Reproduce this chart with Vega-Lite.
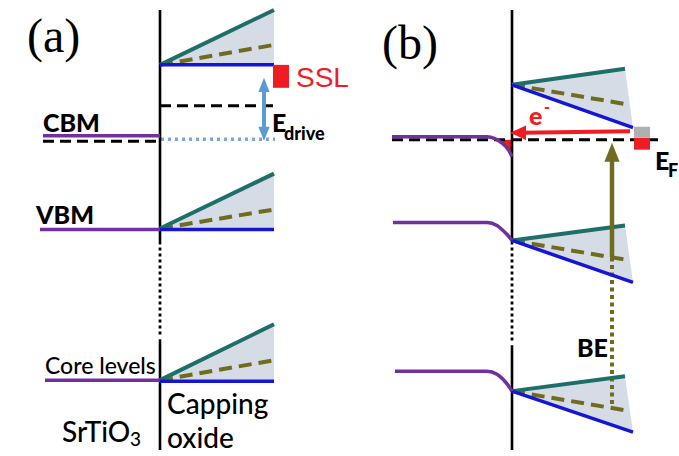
{
  "$schema": "https://vega.github.io/schema/vega-lite/v6.json",
  "width": 679,
  "height": 456,
  "autosize": {"type": "fit", "contains": "padding"},
  "padding": 0,
  "background": "white",
  "config": {"view": {"stroke": null}, "axis": {"disable": true}},
  "datasets": {
    "cones": [
      {"cone": "a-cb", "x": 160, "y": 65, "y2": 65},
      {"cone": "a-cb", "x": 274, "y": 10, "y2": 65},
      {"cone": "a-vb", "x": 160, "y": 229, "y2": 229},
      {"cone": "a-vb", "x": 274, "y": 174, "y2": 230},
      {"cone": "a-core", "x": 160, "y": 381, "y2": 381},
      {"cone": "a-core", "x": 274, "y": 325, "y2": 382},
      {"cone": "b-cb", "x": 512, "y": 85, "y2": 85},
      {"cone": "b-cb", "x": 625, "y": 69, "y2": 125.2},
      {"cone": "b-cb", "x": 633, "y": 128, "y2": 128},
      {"cone": "b-vb", "x": 512, "y": 241, "y2": 241},
      {"cone": "b-vb", "x": 625, "y": 226, "y2": 280.2},
      {"cone": "b-vb", "x": 633, "y": 283, "y2": 283},
      {"cone": "b-core", "x": 512, "y": 392, "y2": 392},
      {"cone": "b-core", "x": 625, "y": 377, "y2": 430.3},
      {"cone": "b-core", "x": 633, "y": 433, "y2": 433}
    ],
    "accumulation": [
      {"x": 497, "y": 140, "y2": 140},
      {"x": 500, "y": 140, "y2": 142},
      {"x": 505, "y": 140, "y2": 146},
      {"x": 509, "y": 140, "y2": 151},
      {"x": 512, "y": 140, "y2": 157}
    ],
    "segs": [
      {"seg": "a-if-top", "role": "interface", "x": 160, "y": 10},
      {"seg": "a-if-top", "role": "interface", "x": 160, "y": 245},
      {"seg": "a-if-bot", "role": "interface", "x": 160, "y": 340},
      {"seg": "a-if-bot", "role": "interface", "x": 160, "y": 451},
      {"seg": "b-if-top", "role": "interface", "x": 512, "y": 10},
      {"seg": "b-if-top", "role": "interface", "x": 512, "y": 245},
      {"seg": "b-if-bot", "role": "interface", "x": 512, "y": 346},
      {"seg": "b-if-bot", "role": "interface", "x": 512, "y": 451},
      {"seg": "a-if-gap", "role": "gap", "x": 160, "y": 248},
      {"seg": "a-if-gap", "role": "gap", "x": 160, "y": 338},
      {"seg": "b-if-gap", "role": "gap", "x": 512, "y": 248},
      {"seg": "b-if-gap", "role": "gap", "x": 512, "y": 343},

      {"seg": "a-cb-up", "role": "upper", "x": 160, "y": 65},
      {"seg": "a-cb-up", "role": "upper", "x": 274, "y": 10},
      {"seg": "a-vb-up", "role": "upper", "x": 160, "y": 229},
      {"seg": "a-vb-up", "role": "upper", "x": 274, "y": 174},
      {"seg": "a-core-up", "role": "upper", "x": 160, "y": 381},
      {"seg": "a-core-up", "role": "upper", "x": 274, "y": 325},
      {"seg": "b-cb-up", "role": "upper", "x": 512, "y": 85},
      {"seg": "b-cb-up", "role": "upper", "x": 625, "y": 69},
      {"seg": "b-vb-up", "role": "upper", "x": 512, "y": 241},
      {"seg": "b-vb-up", "role": "upper", "x": 625, "y": 226},
      {"seg": "b-core-up", "role": "upper", "x": 512, "y": 392},
      {"seg": "b-core-up", "role": "upper", "x": 625, "y": 377},

      {"seg": "a-cb-mid", "role": "mid", "x": 160, "y": 65},
      {"seg": "a-cb-mid", "role": "mid", "x": 274, "y": 45},
      {"seg": "a-vb-mid", "role": "mid", "x": 160, "y": 229},
      {"seg": "a-vb-mid", "role": "mid", "x": 274, "y": 210},
      {"seg": "a-core-mid", "role": "mid", "x": 160, "y": 381},
      {"seg": "a-core-mid", "role": "mid", "x": 274, "y": 361},
      {"seg": "b-cb-mid", "role": "mid", "x": 512, "y": 85},
      {"seg": "b-cb-mid", "role": "mid", "x": 630, "y": 105},
      {"seg": "b-vb-mid", "role": "mid", "x": 512, "y": 241},
      {"seg": "b-vb-mid", "role": "mid", "x": 630, "y": 261},
      {"seg": "b-core-mid", "role": "mid", "x": 512, "y": 392},
      {"seg": "b-core-mid", "role": "mid", "x": 630, "y": 412},

      {"seg": "a-cb-low", "role": "lower", "x": 160, "y": 65},
      {"seg": "a-cb-low", "role": "lower", "x": 274, "y": 65},
      {"seg": "a-vb-low", "role": "lower", "x": 160, "y": 230},
      {"seg": "a-vb-low", "role": "lower", "x": 274, "y": 230},
      {"seg": "a-core-low", "role": "lower", "x": 160, "y": 382},
      {"seg": "a-core-low", "role": "lower", "x": 274, "y": 382},
      {"seg": "b-cb-low", "role": "lower", "x": 512, "y": 85},
      {"seg": "b-cb-low", "role": "lower", "x": 633, "y": 128},
      {"seg": "b-vb-low", "role": "lower", "x": 512, "y": 241},
      {"seg": "b-vb-low", "role": "lower", "x": 633, "y": 283},
      {"seg": "b-core-low", "role": "lower", "x": 512, "y": 392},
      {"seg": "b-core-low", "role": "lower", "x": 633, "y": 433},

      {"seg": "a-cb-sto", "role": "sto", "x": 43, "y": 136},
      {"seg": "a-cb-sto", "role": "sto", "x": 160, "y": 136},
      {"seg": "a-vb-sto", "role": "sto", "x": 40, "y": 230},
      {"seg": "a-vb-sto", "role": "sto", "x": 160, "y": 230},
      {"seg": "a-core-sto", "role": "sto", "x": 45, "y": 381},
      {"seg": "a-core-sto", "role": "sto", "x": 160, "y": 381},
      {"seg": "b-cb-sto", "role": "sto", "x": 392, "y": 137},
      {"seg": "b-cb-sto", "role": "sto", "x": 487, "y": 137},
      {"seg": "b-cb-sto", "role": "sto", "x": 495, "y": 139},
      {"seg": "b-cb-sto", "role": "sto", "x": 500, "y": 142},
      {"seg": "b-cb-sto", "role": "sto", "x": 505, "y": 146},
      {"seg": "b-cb-sto", "role": "sto", "x": 509, "y": 151},
      {"seg": "b-cb-sto", "role": "sto", "x": 512, "y": 157},
      {"seg": "b-vb-sto", "role": "sto", "x": 393, "y": 223},
      {"seg": "b-vb-sto", "role": "sto", "x": 487, "y": 223},
      {"seg": "b-vb-sto", "role": "sto", "x": 497, "y": 226},
      {"seg": "b-vb-sto", "role": "sto", "x": 503, "y": 231},
      {"seg": "b-vb-sto", "role": "sto", "x": 508, "y": 236},
      {"seg": "b-vb-sto", "role": "sto", "x": 512, "y": 241},
      {"seg": "b-core-sto", "role": "sto", "x": 395, "y": 372},
      {"seg": "b-core-sto", "role": "sto", "x": 487, "y": 372},
      {"seg": "b-core-sto", "role": "sto", "x": 497, "y": 375},
      {"seg": "b-core-sto", "role": "sto", "x": 503, "y": 380},
      {"seg": "b-core-sto", "role": "sto", "x": 508, "y": 386},
      {"seg": "b-core-sto", "role": "sto", "x": 512, "y": 392},

      {"seg": "a-ef-cbm", "role": "fermi", "x": 43, "y": 141.5},
      {"seg": "a-ef-cbm", "role": "fermi", "x": 160, "y": 141.5},
      {"seg": "a-ef-top", "role": "fermi", "x": 160, "y": 106},
      {"seg": "a-ef-top", "role": "fermi", "x": 277, "y": 106},
      {"seg": "b-ef", "role": "fermi", "x": 392, "y": 140},
      {"seg": "b-ef", "role": "fermi", "x": 662, "y": 140},

      {"seg": "a-cbm-ref", "role": "cbmref", "x": 161, "y": 139.5},
      {"seg": "a-cbm-ref", "role": "cbmref", "x": 275, "y": 139.5},

      {"seg": "drive-shaft", "role": "drive", "x": 264, "y": 88},
      {"seg": "drive-shaft", "role": "drive", "x": 264, "y": 132},
      {"seg": "e-shaft", "role": "electron", "x": 522, "y": 133},
      {"seg": "e-shaft", "role": "electron", "x": 630, "y": 131.5},
      {"seg": "be-shaft", "role": "be", "x": 612, "y": 158},
      {"seg": "be-shaft", "role": "be", "x": 612, "y": 258},
      {"seg": "be-dots", "role": "bedots", "x": 612, "y": 258},
      {"seg": "be-dots", "role": "bedots", "x": 612, "y": 408}
    ],
    "redBlocks": [
      {"x": 273, "x2": 289, "y": 65, "y2": 88},
      {"x": 634, "x2": 650, "y": 138, "y2": 150}
    ],
    "grayBlocks": [
      {"x": 634, "x2": 650, "y": 127, "y2": 138}
    ],
    "heads": [
      {"arrow": "drive", "dir": "up", "x": 264, "y": 85},
      {"arrow": "drive", "dir": "down", "x": 264, "y": 134},
      {"arrow": "electron", "dir": "left", "x": 518, "y": 133},
      {"arrow": "be", "dir": "up", "x": 612, "y": 152.5}
    ],
    "tags": [
      {"label": "(a)", "x": 27, "y": 52},
      {"label": "(b)", "x": 382, "y": 59}
    ],
    "boldLabels": [
      {"label": "CBM", "x": 43, "y": 132},
      {"label": "VBM", "x": 36, "y": 224},
      {"label": "BE", "x": 577, "y": 358},
      {"label": "E", "x": 272, "y": 132},
      {"label": "E", "x": 655, "y": 170}
    ],
    "boldSubs": [
      {"label": "drive", "x": 284, "y": 140},
      {"label": "F", "x": 668, "y": 177}
    ],
    "regionLabels": [
      {"label": "SrTiO", "x": 62, "y": 443},
      {"label": "Capping", "x": 167, "y": 415},
      {"label": "oxide", "x": 167, "y": 449}
    ],
    "regionSubs": [
      {"label": "3", "x": 130, "y": 447}
    ],
    "levelLabels": [
      {"label": "Core levels", "x": 45, "y": 375}
    ],
    "ssl": [
      {"label": "SSL", "x": 296, "y": 87}
    ],
    "electron": [
      {"label": "e", "x": 529, "y": 125}
    ],
    "electronSup": [
      {"label": "-", "x": 544, "y": 113}
    ]
  },
  "encoding": {
    "x": {"field": "x", "type": "quantitative", "scale": {"domain": [0, 679], "nice": false, "zero": false}, "axis": null},
    "y": {"field": "y", "type": "quantitative", "scale": {"domain": [0, 456], "nice": false, "zero": false, "reverse": true}, "axis": null}
  },
  "layer": [
    {
      "data": {"name": "cones"},
      "mark": {"type": "area", "color": "#d6dce5", "opacity": 1},
      "encoding": {"y2": {"field": "y2"}, "detail": {"field": "cone"}}
    },
    {
      "data": {"name": "accumulation"},
      "mark": {"type": "area", "color": "#f01c24", "opacity": 1},
      "encoding": {"y2": {"field": "y2"}}
    },
    {
      "data": {"name": "segs"},
      "transform": [{"filter": "datum.role === 'fermi'"}],
      "mark": {"type": "line", "color": "black", "strokeWidth": 3, "strokeDash": [11, 6], "strokeCap": "butt"},
      "encoding": {"detail": {"field": "seg"}}
    },
    {
      "data": {"name": "segs"},
      "transform": [{"filter": "datum.role === 'cbmref'"}],
      "mark": {"type": "line", "color": "#7fa8d8", "strokeWidth": 3.5, "strokeDash": [3, 4], "strokeCap": "butt"},
      "encoding": {"detail": {"field": "seg"}}
    },
    {
      "data": {"name": "segs"},
      "transform": [{"filter": "datum.role === 'interface'"}],
      "mark": {"type": "line", "color": "black", "strokeWidth": 2.6, "strokeCap": "butt"},
      "encoding": {"detail": {"field": "seg"}}
    },
    {
      "data": {"name": "segs"},
      "transform": [{"filter": "datum.role === 'gap'"}],
      "mark": {"type": "line", "color": "black", "strokeWidth": 2.8, "strokeDash": [3, 3], "strokeCap": "butt"},
      "encoding": {"detail": {"field": "seg"}}
    },
    {
      "data": {"name": "segs"},
      "transform": [{"filter": "datum.role === 'bedots'"}],
      "mark": {"type": "line", "color": "#6f6c1f", "strokeWidth": 4, "strokeDash": [4, 3.5], "strokeCap": "butt"},
      "encoding": {"detail": {"field": "seg"}}
    },
    {
      "data": {"name": "segs"},
      "transform": [{"filter": "datum.role === 'mid'"}],
      "mark": {"type": "line", "color": "#6f6c1f", "strokeWidth": 4, "strokeDash": [13, 7], "strokeCap": "butt"},
      "encoding": {"detail": {"field": "seg"}}
    },
    {
      "data": {"name": "segs"},
      "transform": [{"filter": "datum.role === 'upper'"}],
      "mark": {"type": "line", "color": "#1e6e6a", "strokeWidth": 4, "strokeCap": "butt"},
      "encoding": {"detail": {"field": "seg"}}
    },
    {
      "data": {"name": "segs"},
      "transform": [{"filter": "datum.role === 'lower'"}],
      "mark": {"type": "line", "color": "#1515d8", "strokeWidth": 3.5, "strokeCap": "butt"},
      "encoding": {"detail": {"field": "seg"}}
    },
    {
      "data": {"name": "segs"},
      "transform": [{"filter": "datum.role === 'sto'"}],
      "mark": {"type": "line", "color": "#7030a0", "strokeWidth": 3.5, "strokeCap": "butt", "interpolate": "monotone"},
      "encoding": {"detail": {"field": "seg"}}
    },
    {
      "data": {"name": "segs"},
      "transform": [{"filter": "datum.role === 'drive'"}],
      "mark": {"type": "line", "color": "#5b9bd5", "strokeWidth": 4, "strokeCap": "butt"},
      "encoding": {"detail": {"field": "seg"}}
    },
    {
      "data": {"name": "segs"},
      "transform": [{"filter": "datum.role === 'electron'"}],
      "mark": {"type": "line", "color": "#f01c24", "strokeWidth": 4, "strokeCap": "butt"},
      "encoding": {"detail": {"field": "seg"}}
    },
    {
      "data": {"name": "segs"},
      "transform": [{"filter": "datum.role === 'be'"}],
      "mark": {"type": "line", "color": "#6f6c1f", "strokeWidth": 4.5, "strokeCap": "butt"},
      "encoding": {"detail": {"field": "seg"}}
    },
    {
      "data": {"name": "redBlocks"},
      "mark": {"type": "rect", "color": "#f01c24"},
      "encoding": {"x2": {"field": "x2"}, "y2": {"field": "y2"}}
    },
    {
      "data": {"name": "grayBlocks"},
      "mark": {"type": "rect", "color": "#b0b0b0"},
      "encoding": {"x2": {"field": "x2"}, "y2": {"field": "y2"}}
    },
    {
      "data": {"name": "heads"},
      "transform": [{"filter": "datum.arrow === 'drive'"}],
      "mark": {"type": "point", "filled": true, "color": "#5b9bd5", "opacity": 1, "size": 200, "strokeWidth": 0},
      "encoding": {"shape": {"field": "dir", "type": "nominal", "legend": null,
        "scale": {"domain": ["up", "down", "left"], "range": ["M0,-1L0.8,1L-0.8,1Z", "M0,1L0.8,-1L-0.8,-1Z", "M-1,0L1,-0.9L1,0.9Z"]}}}
    },
    {
      "data": {"name": "heads"},
      "transform": [{"filter": "datum.arrow === 'electron'"}],
      "mark": {"type": "point", "filled": true, "color": "#f01c24", "opacity": 1, "size": 256, "strokeWidth": 0},
      "encoding": {"shape": {"field": "dir", "type": "nominal", "legend": null}}
    },
    {
      "data": {"name": "heads"},
      "transform": [{"filter": "datum.arrow === 'be'"}],
      "mark": {"type": "point", "filled": true, "color": "#6f6c1f", "opacity": 1, "size": 361, "strokeWidth": 0},
      "encoding": {"shape": {"field": "dir", "type": "nominal", "legend": null}}
    },
    {
      "data": {"name": "tags"},
      "mark": {"type": "text", "align": "left", "baseline": "alphabetic", "font": "Liberation Serif", "fontSize": 48, "color": "black"},
      "encoding": {"text": {"field": "label"}}
    },
    {
      "data": {"name": "boldLabels"},
      "mark": {"type": "text", "align": "left", "baseline": "alphabetic", "font": "Lato", "fontWeight": 900, "fontSize": 25, "color": "black"},
      "encoding": {"text": {"field": "label"}}
    },
    {
      "data": {"name": "boldSubs"},
      "mark": {"type": "text", "align": "left", "baseline": "alphabetic", "font": "Lato", "fontWeight": 900, "fontSize": 18, "color": "black"},
      "encoding": {"text": {"field": "label"}}
    },
    {
      "data": {"name": "regionLabels"},
      "mark": {"type": "text", "align": "left", "baseline": "alphabetic", "font": "Lato", "fontWeight": 500, "fontSize": 28, "color": "black"},
      "encoding": {"text": {"field": "label"}}
    },
    {
      "data": {"name": "regionSubs"},
      "mark": {"type": "text", "align": "left", "baseline": "alphabetic", "font": "Lato", "fontWeight": 500, "fontSize": 19, "color": "black"},
      "encoding": {"text": {"field": "label"}}
    },
    {
      "data": {"name": "levelLabels"},
      "mark": {"type": "text", "align": "left", "baseline": "alphabetic", "font": "Lato", "fontWeight": 500, "fontSize": 23, "color": "black"},
      "encoding": {"text": {"field": "label"}}
    },
    {
      "data": {"name": "ssl"},
      "mark": {"type": "text", "align": "left", "baseline": "alphabetic", "font": "Liberation Sans", "fontSize": 28, "color": "#f01c24"},
      "encoding": {"text": {"field": "label"}}
    },
    {
      "data": {"name": "electron"},
      "mark": {"type": "text", "align": "left", "baseline": "alphabetic", "font": "Lato", "fontWeight": 900, "fontSize": 25, "color": "#f01c24"},
      "encoding": {"text": {"field": "label"}}
    },
    {
      "data": {"name": "electronSup"},
      "mark": {"type": "text", "align": "left", "baseline": "alphabetic", "font": "Lato", "fontWeight": 900, "fontSize": 16, "color": "#f01c24"},
      "encoding": {"text": {"field": "label"}}
    }
  ]
}
